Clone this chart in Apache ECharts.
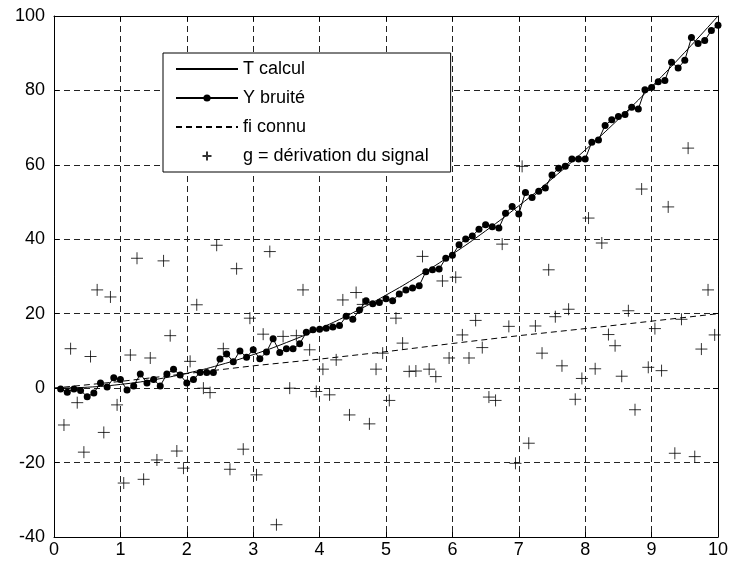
<!DOCTYPE html>
<html>
<head>
<meta charset="utf-8">
<script src="https://cdn.jsdelivr.net/npm/echarts@6/dist/echarts.min.js"></script>
<style>
  body { margin: 0; background: #fff; }
  #main { width: 741px; height: 562px; }
</style>
</head>
<body>
<div id="main"></div>
<script>
// values
const tCalcul = [
  [0, 0], [0.5, 0.25], [1, 1], [1.5, 2.25], [2, 4], [2.5, 6.25], [3, 9], [3.5, 12.25],
  [4, 16], [4.5, 20.25], [5, 25], [5.5, 30.25], [6, 36], [6.5, 42.25], [7, 49],
  [7.5, 56.25], [8, 64], [8.5, 72.25], [9, 81], [9.5, 90.25], [10, 100]
]

const yBruite = [
  [0.1, -0.2], [0.2, -1.1], [0.3, -0.2], [0.4, -0.6], [0.5, -2.3], [0.6, -1.3], [0.7, 1.4], [0.8, 0.3], [0.9, 2.8], [1.0, 2.3],
  [1.1, -0.5], [1.2, 0.6], [1.3, 3.8], [1.4, 1.4], [1.5, 2.3], [1.6, 0.6], [1.7, 3.8], [1.8, 5.1], [1.9, 3.5], [2.0, 1.4],
  [2.1, 2.3], [2.2, 4.2], [2.3, 4.2], [2.4, 4.2], [2.5, 7.8], [2.6, 9.2], [2.7, 7.1], [2.8, 10.0], [2.9, 8.3], [3.0, 10.3],
  [3.1, 7.9], [3.2, 9.7], [3.3, 13.3], [3.4, 9.6], [3.5, 10.6], [3.6, 10.6], [3.7, 11.9], [3.8, 15.0], [3.9, 15.7], [4.0, 15.8],
  [4.1, 16.1], [4.2, 16.4], [4.3, 16.8], [4.4, 19.3], [4.5, 18.5], [4.6, 21.0], [4.7, 23.5], [4.8, 22.7], [4.9, 23.0], [5.0, 24.0],
  [5.1, 23.5], [5.2, 25.3], [5.3, 26.4], [5.4, 26.9], [5.5, 27.5], [5.6, 31.3], [5.7, 31.8], [5.8, 32.0], [5.9, 34.9], [6.0, 35.7],
  [6.1, 38.5], [6.2, 40.1], [6.3, 40.9], [6.4, 42.7], [6.5, 43.9], [6.6, 43.4], [6.7, 43.0], [6.8, 47.0], [6.9, 48.8], [7.0, 46.8],
  [7.1, 52.6], [7.2, 51.2], [7.3, 52.9], [7.4, 53.8], [7.5, 57.3], [7.6, 59.1], [7.7, 59.6], [7.8, 61.6], [7.9, 61.6], [8.0, 61.6],
  [8.1, 66.1], [8.2, 66.7], [8.3, 70.6], [8.4, 72.1], [8.5, 73.0], [8.6, 73.5], [8.7, 75.5], [8.8, 75.0], [8.9, 80.2], [9.0, 80.8],
  [9.1, 82.3], [9.2, 82.7], [9.3, 87.6], [9.4, 86.0], [9.5, 88.1], [9.6, 94.2], [9.7, 92.6], [9.8, 93.4], [9.9, 96.1], [10.0, 97.5]
]

const fiConnu = [
  [0, 0], [1, 1.8], [2, 3.9], [3, 6.0], [4, 7.8], [5, 9.8],
  [6, 12.0], [7, 14.1], [8, 16.0], [9, 18.0], [10, 20.0]
]

const gDerivation = [
  [0.15, -9.9], [0.25, 10.6], [0.35, -3.9], [0.45, -17.2], [0.55, 8.5], [0.65, 26.4], [0.75, -11.9], [0.85, 24.5], [0.95, -4.5],
  [1.05, -25.5], [1.15, 8.9], [1.25, 34.9], [1.35, -24.5], [1.45, 8.1], [1.55, -19.3], [1.65, 34.2], [1.75, 14.1], [1.85, -16.9], [1.95, -21.5],
  [2.05, 7.2], [2.15, 22.4], [2.25, 0], [2.35, -1.2], [2.45, 38.4], [2.55, 10.6], [2.65, -21.8], [2.75, 32.1], [2.85, -16.4], [2.95, 18.8],
  [3.05, -23.3], [3.15, 14.5], [3.25, 36.7], [3.35, -36.7], [3.45, 13.9], [3.55, 0], [3.65, 14.1], [3.75, 26.4], [3.85, 10.3], [3.95, -0.9],
  [4.05, 5.1], [4.15, -1.8], [4.25, 7.6], [4.35, 23.7], [4.45, -7.2], [4.55, 25.7], [4.65, 22.5], [4.75, -9.6], [4.85, 5.1], [4.95, 9.4],
  [5.05, -3.3], [5.15, 18.8], [5.25, 12.1], [5.35, 4.5], [5.45, 4.6], [5.55, 35.4], [5.65, 5.1], [5.75, 3.1], [5.85, 28.8], [5.95, 8.1],
  [6.05, 29.8], [6.15, 14.3], [6.25, 8.1], [6.35, 18.2], [6.45, 10.9], [6.55, -2.4], [6.65, -3.3], [6.75, 38.7], [6.85, 16.6], [6.95, -20.2],
  [7.05, 59.6], [7.15, -14.8], [7.25, 16.7], [7.35, 9.4], [7.45, 31.8], [7.55, 19.2], [7.65, 6.0], [7.75, 21.2], [7.85, -3.0], [7.95, 2.6],
  [8.05, 45.7], [8.15, 5.2], [8.25, 39.0], [8.35, 14.4], [8.45, 11.4], [8.55, 3.2], [8.65, 20.8], [8.75, -5.8], [8.85, 53.5], [8.95, 5.6],
  [9.05, 16.0], [9.15, 4.7], [9.25, 48.7], [9.35, -17.5], [9.45, 18.5], [9.55, 64.5], [9.65, -18.4], [9.75, 10.5], [9.85, 26.4], [9.95, 14.3]
]

const xTicks = { min: 0, max: 10, interval: 1 }
const yTicks = { min: -40, max: 100, interval: 20 }

const font = 'Liberation Sans, Arial, sans-serif'
const gridDash = { color: '#222', width: 1, type: [6, 4] }
// legend symbol hidden for the plain lines
const noMarker = { color: 'rgba(0,0,0,0)', borderWidth: 0 }

function boxAxis (range, pos, main) {
  return {
    type: 'value',
    position: pos,
    min: range.min,
    max: range.max,
    interval: range.interval,
    axisLine: { show: true, onZero: false, lineStyle: { color: '#000', width: 1 } },
    axisTick: { show: true, inside: true, length: 5, lineStyle: { color: '#000' } },
    axisLabel: main ? { show: true, color: '#000', fontSize: 18, fontFamily: font, margin: pos === 'left' ? 9 : 4 } : { show: false },
    splitLine: main ? { show: true, lineStyle: gridDash } : { show: false }
  }
}

const chart = echarts.init(document.getElementById('main'))
chart.setOption({
  animation: false,
  backgroundColor: '#fff',
  grid: { left: 54, right: 23, top: 16, bottom: 25 },
  xAxis: [boxAxis(xTicks, 'bottom', true), boxAxis(xTicks, 'top', false)],
  yAxis: [boxAxis(yTicks, 'left', true), boxAxis(yTicks, 'right', false)],
  legend: {
    orient: 'vertical',
    left: 163,
    top: 53,
    padding: [7, 22, 7, 12],
    itemGap: 11,
    itemWidth: 62,
    itemHeight: 9,
    backgroundColor: '#fff',
    borderColor: '#000',
    borderWidth: 1,
    borderRadius: 0,
    textStyle: { color: '#000', fontSize: 18, fontFamily: font },
    data: [
      { name: 'T calcul', itemStyle: noMarker },
      { name: 'Y bruité' },
      { name: 'fi connu', itemStyle: noMarker },
      { name: 'g = dérivation du signal' }
    ]
  },
  series: [
    {
      name: 'T calcul',
      type: 'line',
      data: tCalcul,
      symbol: 'none',
      smooth: true,
      lineStyle: { color: '#000', width: 1 },
      itemStyle: { color: '#000' }
    },
    {
      name: 'Y bruité',
      type: 'line',
      data: yBruite,
      symbol: 'circle',
      symbolSize: 7,
      lineStyle: { color: '#000', width: 1 },
      itemStyle: { color: '#000' }
    },
    {
      name: 'fi connu',
      type: 'line',
      data: fiConnu,
      symbol: 'none',
      lineStyle: { color: '#000', width: 1, type: [6, 4] },
      itemStyle: { color: '#000' }
    },
    {
      name: 'g = dérivation du signal',
      type: 'scatter',
      data: gDerivation,
      symbol: 'path://M0,6L12,6M6,0L6,12',
      symbolSize: 12,
      itemStyle: { color: 'none', borderColor: '#000', borderWidth: 1 }
    }
  ]
})
</script>
</body>
</html>
